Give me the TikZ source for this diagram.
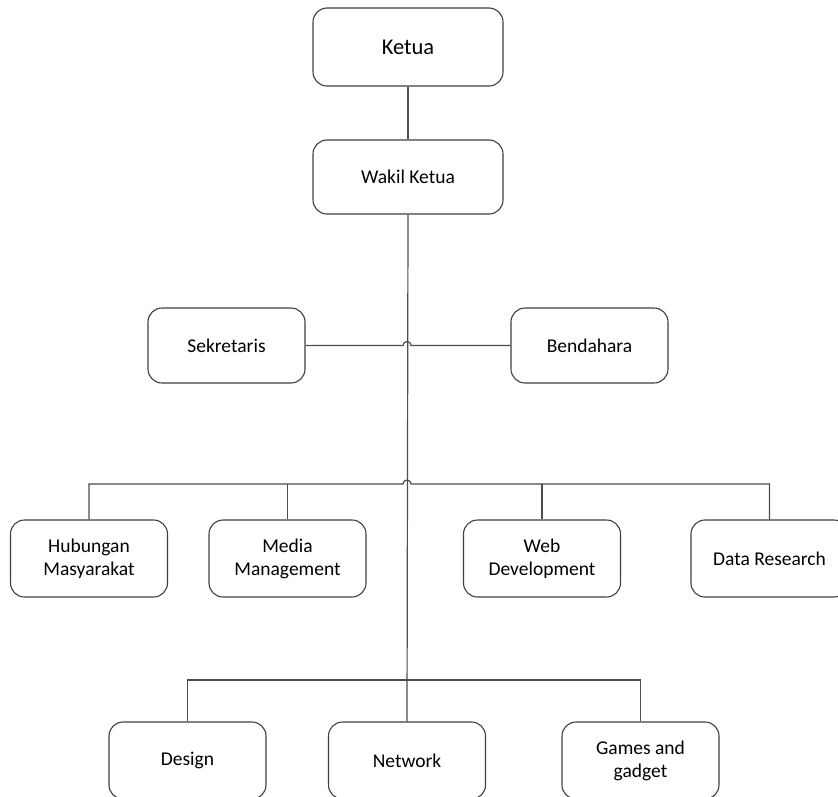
\documentclass[tikz,border=0pt]{standalone}
\usepackage{fontspec}
\setmainfont{Carlito}
\begin{document}
\begin{tikzpicture}[x=1pt,y=-1pt,
  box/.style={draw=black!75, line width=1.1pt, rounded corners=14pt, fill=white,
    minimum width=157pt, minimum height=77pt, inner sep=2pt, align=center,
    font=\fontsize{19.5}{23}\selectfont},
  wire/.style={draw=black!70, line width=1.2pt}]
\useasboundingbox (0,0) rectangle (838,797);
\clip (0,0) rectangle (838,797);
\node[box, minimum width=190pt, minimum height=78pt, font=\fontsize{22.5}{26}\selectfont] (ketua) at (408,47) {Ketua};
\node[box, minimum width=190pt, minimum height=74pt] (wakil) at (408,177) {Wakil Ketua};
\node[box, minimum height=75pt] (sek) at (226.5,345.5) {Sekretaris};
\node[box, minimum height=75pt] (ben) at (589.5,345.5) {Bendahara};
\node[box] (hum) at (89,558.5) {Hubungan\\Masyarakat};
\node[box] (med) at (287.5,558.5) {Media\\Management};
\node[box] (web) at (542,558.5) {Web\\Development};
\node[box] (dat) at (769.5,558.5) {Data Research};
\node[box] (des) at (187.5,760.5) {Design};
\node[box] (net) at (407,760.5) {Network};
\node[box] (gam) at (640.5,760.5) {Games and\\gadget};
% coordinates
\coordinate (hL) at (403,345.5);
\coordinate (bL) at (403,484);
\coordinate (busL) at (hum.north |- 0,484);
\coordinate (busR) at (dat.north |- 0,484);
\coordinate (b3L) at (des.north |- 0,680);
\coordinate (b3R) at (gam.north |- 0,680);
% connectors
\draw[wire] (ketua.south) -- (wakil.north);
\draw[wire] (wakil.south) -- (net.north);
\draw[wire] (sek.east) -- (hL) arc[start angle=180, end angle=0, radius=4pt] -- (ben.west);
\draw[wire] (hum.north) -- (busL) -- (bL) arc[start angle=180, end angle=0, radius=4pt] -- (busR) -- (dat.north);
\draw[wire] (med.north) -- (med.north |- busL);
\draw[wire] (web.north) -- (web.north |- busL);
\draw[wire] (des.north) -- (b3L) -- (b3R) -- (gam.north);
\end{tikzpicture}
\end{document}
